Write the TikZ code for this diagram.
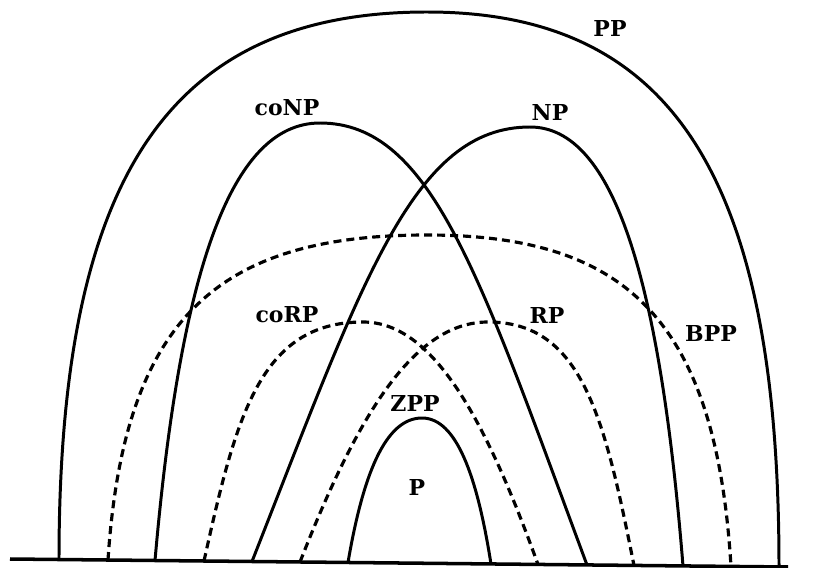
\documentclass[tikz,border=0pt]{standalone}
\usepackage{fontspec}
\setmainfont{DejaVu Serif}
\usepackage{tikz}
\usetikzlibrary{calc}
\tikzset{
  arco/.style={line width=1.7pt},
  arcotratt/.style={line width=1.8pt, dash pattern=on 1.6mm off 1mm},
  classe/.style={font=\fontsize{12.5}{15}\selectfont\bfseries, inner sep=1pt}
}
\begin{document}
\begin{tikzpicture}[x=0.2mm, y=-0.2mm]
\useasboundingbox (0,0) rectangle (815,568);
% Linea di base
\draw[line width=2pt] (10,559) -- (788,567);
% Archi pieni: PP, coNP, NP, P (piede sx / cima / piede dx, forma lato sx, forma lato dx)
\foreach \xl/\yl/\xt/\yt/\xr/\yr/\sl/\kl/\ql/\sr/\kr/\qr in {
  59/559.5/427/12/779/567/0/0.7/0.7/0/0.7/0.7,
  155/560.5/320/123/587/565/0.15/0.65/0.55/0.4/0.65/0.42,
  252/561.5/530/127/683/566/0.4/0.65/0.42/0.15/0.65/0.55,
  348/562.5/422/418/491/564/0.2/0.6/0.5/0.2/0.6/0.5}{
  \draw[arco] (\xl,\yl) .. controls ({\xl+\sl*(\xt-\xl)},{\yl-\kl*(\yl-\yt)}) and ({\xt-\ql*(\xt-\xl)},\yt) .. (\xt,\yt)
    .. controls ({\xt+\qr*(\xr-\xt)},\yt) and ({\xr-\sr*(\xr-\xt)},{\yr-\kr*(\yr-\yt)}) .. (\xr,\yr);
}
% Archi tratteggiati: BPP, coRP, RP
\foreach \xl/\yl/\xt/\yt/\xr/\yr/\sl/\kl/\ql/\sr/\kr/\qr in {
  108/560/427/235/731/566.5/0.05/0.75/0.65/0.05/0.75/0.65,
  204/561/363/322/538/564.5/0.2/0.6/0.65/0.3/0.6/0.4,
  300/562/488/322/634/565.5/0.3/0.6/0.4/0.2/0.6/0.65}{
  \draw[arcotratt] (\xl,\yl) .. controls ({\xl+\sl*(\xt-\xl)},{\yl-\kl*(\yl-\yt)}) and ({\xt-\ql*(\xt-\xl)},\yt) .. (\xt,\yt)
    .. controls ({\xt+\qr*(\xr-\xt)},\yt) and ({\xr-\sr*(\xr-\xt)},{\yr-\kr*(\yr-\yt)}) .. (\xr,\yr);
}
% Nomi delle classi
\node[classe] (pp) at (610,28) {PP};
\node[classe] (conp) at (287,108) {coNP};
\node[classe] (np) at (550,112) {NP};
\node[classe] (corp) at (287,315) {coRP};
\node[classe] (rp) at (547,315) {RP};
\node[classe] (bpp) at (711,333) {BPP};
\node[classe] (zpp) at (415,403) {ZPP};
\node[classe] (p) at (417,487) {P};
\end{tikzpicture}
\end{document}
